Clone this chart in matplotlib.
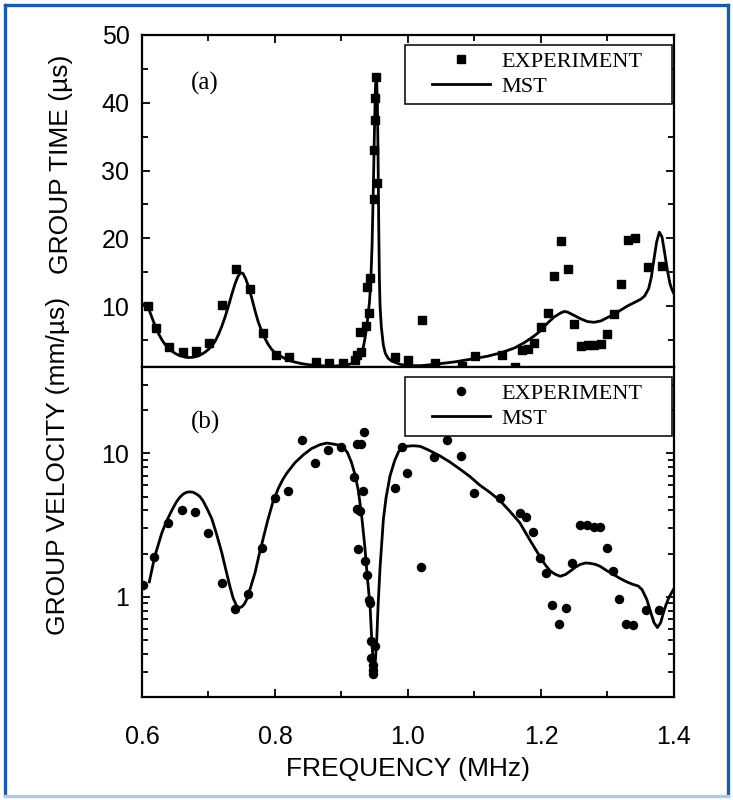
import numpy as np
import matplotlib
matplotlib.use("Agg")
import matplotlib.pyplot as plt
from matplotlib.ticker import FixedLocator, MultipleLocator, NullFormatter, FormatStrFormatter
from matplotlib.legend_handler import HandlerLine2D
from matplotlib.lines import Line2D

plt.rcParams['font.family'] = ['Liberation Sans', 'DejaVu Sans']

# (a) group time, measured points
exp_a_f = [0.609, 0.6206, 0.641, 0.661, 0.681, 0.701, 0.721, 0.742, 0.762, 0.782,
           0.8015, 0.8215, 0.8617, 0.8817, 0.902, 0.921, 0.923, 0.928, 0.930, 0.937,
           0.939, 0.941, 0.943, 0.949, 0.949, 0.951, 0.951, 0.952, 0.953, 0.980,
           1.0005, 1.0206, 1.0406, 1.081, 1.1008, 1.141, 1.161, 1.171, 1.180, 1.190,
           1.200, 1.210, 1.220, 1.230, 1.240, 1.250, 1.260, 1.270, 1.280, 1.290,
           1.300, 1.310, 1.320, 1.331, 1.341, 1.361, 1.382]
exp_a_t = [10.0, 6.7, 3.9, 3.2, 3.3, 4.6, 10.1, 15.4, 12.5, 5.95,
           2.7, 2.5, 1.75, 1.6, 1.6, 2.0, 2.7, 6.1, 3.2, 7.1,
           12.8, 9.0, 14.2, 25.8, 33.0, 37.5, 40.7, 43.8, 28.1, 2.5,
           2.0, 8.0, 1.6, 1.2, 2.6, 2.7, 1.0, 3.5, 3.6, 4.6,
           6.9, 8.9, 14.4, 19.6, 15.4, 7.4, 4.1, 4.2, 4.3, 4.4,
           5.9, 8.8, 13.3, 19.7, 20.1, 15.8, 15.9]

# (a) MST curve
mst_a_f = [0.602, 0.606, 0.610, 0.615, 0.620, 0.625, 0.630, 0.635, 0.640, 0.645,
           0.650, 0.655, 0.660, 0.665, 0.670, 0.675, 0.680, 0.685, 0.690, 0.695,
           0.700, 0.705, 0.710, 0.715, 0.720, 0.725, 0.730, 0.735, 0.740, 0.744,
           0.748, 0.752, 0.756, 0.760, 0.765, 0.770, 0.775, 0.780, 0.785, 0.790,
           0.795, 0.800, 0.810, 0.820, 0.830, 0.840, 0.850, 0.860, 0.870, 0.880,
           0.890, 0.900, 0.910, 0.918, 0.925, 0.930, 0.933, 0.936, 0.939, 0.942,
           0.944, 0.946, 0.948, 0.950, 0.951, 0.952, 0.953, 0.954, 0.955, 0.956,
           0.957, 0.958, 0.960, 0.963, 0.966, 0.970, 0.975, 0.980, 0.990, 1.000,
           1.020, 1.040, 1.070, 1.100, 1.120, 1.140, 1.160, 1.175, 1.190, 1.200,
           1.210, 1.220, 1.230, 1.235, 1.240, 1.250, 1.260, 1.270, 1.280, 1.290,
           1.300, 1.310, 1.320, 1.330, 1.340, 1.350, 1.356, 1.362, 1.366, 1.370,
           1.374, 1.378, 1.382, 1.386, 1.390, 1.394, 1.397, 1.400]
mst_a_t = [10.3, 10.2, 9.6, 8.3, 7.0, 5.9, 5.0, 4.3, 3.8, 3.35,
           3.0, 2.75, 2.6, 2.45, 2.4, 2.42, 2.5, 2.65, 2.9, 3.2,
           3.6, 4.1, 4.8, 5.8, 7.0, 8.4, 10.0, 11.7, 13.3, 14.3,
           14.9, 14.8, 14.0, 12.9, 11.2, 9.3, 7.6, 6.3, 5.2, 4.3,
           3.6, 3.1, 2.5, 2.0, 1.72, 1.5, 1.35, 1.25, 1.18, 1.15,
           1.15, 1.2, 1.35, 1.6, 2.0, 2.9, 4.0, 5.6, 7.8, 10.5,
           13.5, 19.0, 28.0, 38.0, 42.0, 44.0, 43.0, 40.0, 32.0, 22.0,
           14.0, 10.0, 6.8, 4.2, 3.0, 2.3, 1.9, 1.7, 1.35, 1.2,
           1.2, 1.4, 1.75, 2.25, 2.6, 3.1, 3.8, 4.6, 5.6, 6.4,
           7.5, 8.4, 9.0, 9.2, 9.1, 8.6, 8.1, 7.7, 7.6, 7.8,
           8.3, 8.8, 9.4, 10.0, 10.5, 11.0, 11.5, 12.6, 14.3, 17.0,
           19.5, 20.9, 20.2, 17.8, 15.3, 13.3, 12.4, 11.8]

# (b) group velocity, measured points
exp_b_f = [0.601, 0.6185, 0.6395, 0.660, 0.680, 0.700, 0.720, 0.740, 0.760, 0.780,
           0.800, 0.820, 0.840, 0.860, 0.880, 0.900, 0.919, 0.923, 0.923, 0.925,
           0.928, 0.929, 0.932, 0.934, 0.935, 0.939, 0.941, 0.943, 0.945, 0.945,
           0.947, 0.947, 0.948, 0.950, 0.980, 0.9905, 0.999, 1.019, 1.039, 1.059,
           1.079, 1.099, 1.138, 1.168, 1.178, 1.188, 1.198, 1.208, 1.217, 1.227,
           1.237, 1.247, 1.259, 1.269, 1.279, 1.289, 1.299, 1.309, 1.318, 1.328,
           1.338, 1.358, 1.378]
exp_b_v = [1.2, 1.89, 3.26, 4.01, 3.90, 2.80, 1.25, 0.815, 1.04, 2.18,
           4.92, 5.42, 12.4, 8.55, 10.5, 11.0, 6.8, 11.6, 4.12, 2.14,
           3.97, 11.6, 5.47, 14.0, 1.77, 1.42, 0.95, 0.91, 0.49, 0.374,
           0.31, 0.29, 0.336, 0.45, 5.7, 11.0, 7.28, 1.62, 9.37, 12.3,
           9.53, 5.25, 4.92, 3.82, 3.57, 2.83, 1.85, 1.47, 0.88, 0.65,
           0.83, 1.73, 3.15, 3.15, 3.07, 3.07, 2.2, 1.51, 0.97, 0.65,
           0.64, 0.81, 0.81]

# (b) MST curve
mst_b_f = [0.611, 0.615, 0.619, 0.625, 0.630, 0.635, 0.640, 0.646, 0.652, 0.657,
           0.662, 0.667, 0.672, 0.677, 0.682, 0.687, 0.692, 0.698, 0.705, 0.712,
           0.720, 0.726, 0.732, 0.737, 0.742, 0.746, 0.750, 0.754, 0.758, 0.763,
           0.770, 0.776, 0.782, 0.789, 0.797, 0.805, 0.812, 0.818, 0.830, 0.843,
           0.855, 0.868, 0.878, 0.888, 0.896, 0.903, 0.909, 0.915, 0.920, 0.925,
           0.930, 0.935, 0.939, 0.943, 0.946, 0.948, 0.949, 0.951, 0.953, 0.955,
           0.958, 0.963, 0.967, 0.973, 0.980, 0.986, 0.992, 0.998, 1.008, 1.018,
           1.030, 1.048, 1.063, 1.078, 1.093, 1.108, 1.123, 1.138, 1.153, 1.168,
           1.183, 1.198, 1.206, 1.214, 1.222, 1.229, 1.237, 1.244, 1.252, 1.259,
           1.267, 1.274, 1.282, 1.289, 1.299, 1.309, 1.319, 1.329, 1.338, 1.346,
           1.352, 1.359, 1.365, 1.370, 1.375, 1.380, 1.384, 1.388, 1.392, 1.396,
           1.399]
mst_b_v = [1.27, 1.55, 1.9, 2.35, 2.8, 3.2, 3.6, 4.1, 4.6, 4.95,
           5.2, 5.35, 5.39, 5.35, 5.2, 5.0, 4.65, 4.1, 3.5, 2.75,
           2.03, 1.55, 1.19, 0.98, 0.87, 0.84, 0.85, 0.89, 0.97, 1.15,
           1.47, 1.95, 2.52, 3.4, 4.6, 5.7, 6.6, 7.3, 8.6, 9.8,
           10.8, 11.5, 11.8, 11.6, 11.4, 11.0, 10.1, 8.65, 7.2, 5.6,
           3.8, 2.26, 1.35, 0.86, 0.45, 0.35, 0.33, 0.36, 0.5, 0.86,
           1.6, 3.47, 4.9, 6.97, 8.9, 10.3, 10.9, 11.2, 11.3, 11.2,
           10.6, 9.6, 8.7, 7.77, 6.9, 6.0, 5.35, 4.7, 3.95, 3.29,
           2.5, 1.92, 1.68, 1.51, 1.43, 1.39, 1.43, 1.51, 1.61, 1.68,
           1.72, 1.71, 1.68, 1.63, 1.52, 1.43, 1.34, 1.27, 1.22, 1.19,
           1.12, 0.96, 0.78, 0.66, 0.61, 0.66, 0.77, 0.88, 0.98, 1.06,
           1.12]


class OffsetHandle(HandlerLine2D):
    # short line sitting at the right end of a wider handle box
    def get_xdata(self, legend, xdescent, ydescent, width, height, fontsize):
        seg = 2.63 * fontsize
        x0 = -xdescent + width - seg
        return np.array([x0, x0 + seg]), np.array([x0 + seg / 2])


fig = plt.figure(figsize=(7.33, 8.0), dpi=100)
ax1 = fig.add_axes([0.1937, 0.54125, 0.7258, 0.415])
ax2 = fig.add_axes([0.1937, 0.12875, 0.7258, 0.4125], sharex=ax1)

serif = ['Liberation Serif', 'DejaVu Serif']

ax1.plot(exp_a_f, exp_a_t, 's', color='black', ms=5.8, label='EXPERIMENT')
ax1.plot(mst_a_f, mst_a_t, '-', color='black', lw=2.0, label='MST')
ax2.plot(exp_b_f, exp_b_v, 'o', color='black', ms=5.8, label='EXPERIMENT')
ax2.plot(mst_b_f, mst_b_v, '-', color='black', lw=2.0, label='MST')

ax1.set_xlim(0.6, 1.4)
ax1.set_ylim(1, 50)
ax2.set_yscale('log')
ax2.set_ylim(0.2, 40)

for ax in (ax1, ax2):
    for s in ax.spines.values():
        s.set_linewidth(1.6)
    ax.tick_params(which='both', direction='in', width=1.3, labelsize=18)
    ax.tick_params(which='major', length=6)
    ax.tick_params(which='minor', length=4)

ax1.yaxis.set_major_locator(MultipleLocator(10))
ax1.yaxis.set_minor_locator(MultipleLocator(5))
ax1.set_yticks([10, 20, 30, 40, 50])
ax1.tick_params(axis='y', which='both', left=True, right=True, pad=9)
ax1.tick_params(axis='x', which='both', top=True, bottom=False, labelbottom=False)
ax1.xaxis.set_major_locator(MultipleLocator(0.2))
ax1.xaxis.set_minor_locator(MultipleLocator(0.1))

ax2.yaxis.set_major_locator(FixedLocator([1, 10]))
ax2.yaxis.set_minor_locator(FixedLocator([0.2, 0.3, 0.4, 0.5, 0.6, 0.7, 0.8, 0.9,
                                          2, 3, 4, 5, 6, 7, 8, 9, 20, 30]))
ax2.yaxis.set_major_formatter(FormatStrFormatter('%g'))
ax2.yaxis.set_minor_formatter(NullFormatter())
ax2.tick_params(axis='y', which='both', left=True, right=True, pad=9)
ax2.tick_params(axis='x', which='both', top=False, bottom=True, pad=20)
ax2.xaxis.set_major_formatter(FormatStrFormatter('%.1f'))

ax1.set_ylabel('GROUP TIME (\u00b5s)', fontsize=19)
ax1.yaxis.set_label_coords(-0.13, 0.61)
ax2.set_ylabel('GROUP VELOCITY (mm/\u00b5s)', fontsize=19)
ax2.yaxis.set_label_coords(-0.135, 0.70)
ax2.set_xlabel('FREQUENCY (MHz)', fontsize=19, labelpad=6)

ax1.text(0.695, 42.9, '(a)', family=serif, fontsize=18, ha='center', va='center')
ax2.text(0.695, 16.5, '(b)', family=serif, fontsize=18, ha='center', va='center')

for ax, y0 in ((ax1, 0.768), (ax2, 0.773)):
    leg = ax.legend(loc='upper left', bbox_to_anchor=(0.494, y0, 0.502, 0.970 - y0),
                    mode='expand', borderaxespad=0, borderpad=0.3, labelspacing=0.2,
                    handlelength=3.55, handletextpad=0.5, numpoints=1,
                    fancybox=False, framealpha=1, edgecolor='black',
                    prop={'family': serif, 'size': 16},
                    handler_map={Line2D: OffsetHandle()})
    leg.get_frame().set_linewidth(1.1)

# blue page frame
fig.add_artist(Line2D([0.0075, 0.0075], [0.006, 0.994], color='#1f5aa8', lw=2.4))
fig.add_artist(Line2D([0.0075, 0.9935], [0.994, 0.994], color='#1f5aa8', lw=2.4))
fig.add_artist(Line2D([0.9935, 0.9935], [0.006, 0.994], color='#1f5aa8', lw=2.4))
fig.add_artist(Line2D([0.0075, 0.9935], [0.005, 0.005], color='#b5c9de', lw=2.4))

fig.savefig('out.png', dpi=100)
